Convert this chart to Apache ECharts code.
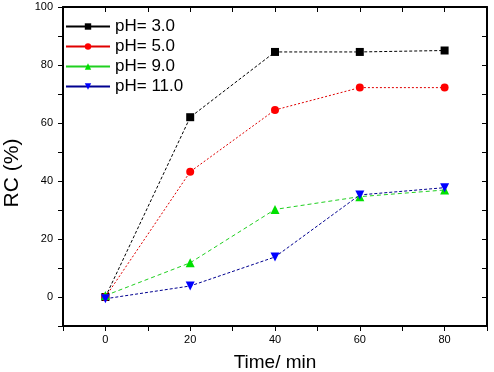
<!DOCTYPE html>
<html>
<head>
<meta charset="utf-8">
<script src="https://cdn.jsdelivr.net/npm/echarts@6/dist/echarts.min.js"></script>
<style>
  html, body { margin: 0; padding: 0; background: #fff; }
  #chart { width: 494px; height: 372px; }
</style>
</head>
<body>
<div id="chart"></div>
<script>
const times = [0, 20, 40, 60, 80];
const ph3 = [0, 62, 84.5, 84.5, 85];
const ph5 = [0, 43.2, 64.5, 72.2, 72.2];
const ph9 = [0.5, 11.8, 30.2, 34.6, 36.9];
const ph11 = [-0.6, 3.8, 13.8, 35.2, 37.7];
const names = ['pH= 3.0', 'pH= 5.0', 'pH= 9.0', 'pH= 11.0'];

const chart = echarts.init(document.getElementById('chart'));

const font = 'Liberation Sans, Arial, sans-serif';
const pair = ys => times.map((t, i) => [t, ys[i]]);
const labelFont = {fontFamily: font, fontSize: 11, color: '#000'};
const everyTwenty = v => (v % 20 === 0 ? String(v) : '');

function mkSeries(name, ys, color, lineColor, symbol, rotate, size, dash) {
  return {
    name: name,
    type: 'line',
    data: pair(ys),
    symbol: symbol,
    symbolSize: size,
    symbolRotate: rotate,
    itemStyle: {color: color},
    lineStyle: {color: lineColor, width: 1, type: dash},
    animation: false
  };
}

const axisBase = {
  type: 'value',
  interval: 10,
  axisLine: {show: true, onZero: false, lineStyle: {color: '#000', width: 2}},
  splitLine: {show: false}
};

chart.setOption({
  backgroundColor: '#fff',
  grid: {left: 63, right: 7, top: 7, bottom: 46, containLabel: false, outerBoundsMode: 'none'},
  legend: {
    orient: 'vertical',
    left: 65,
    top: 18,
    padding: 0,
    itemWidth: 44,
    itemHeight: 8,
    itemGap: 3,
    data: names,
    lineStyle: {type: 'solid'},
    textStyle: {fontFamily: font, fontSize: 17, color: '#000'}
  },
  xAxis: [
    Object.assign({}, axisBase, {
      position: 'bottom', min: -10, max: 90,
      name: 'Time/ min', nameLocation: 'middle', nameGap: 27,
      nameTextStyle: {fontFamily: font, fontSize: 19, color: '#000'},
      axisTick: {show: true, inside: false, length: 5, lineStyle: {color: '#000', width: 1}},
      axisLabel: Object.assign({formatter: everyTwenty, margin: 8, showMinLabel: true, showMaxLabel: true}, labelFont)
    }),
    Object.assign({}, axisBase, {
      position: 'top', min: -10, max: 90,
      axisTick: {show: true, inside: true, length: 5, lineStyle: {color: '#000', width: 1}},
      axisLabel: {show: false}
    })
  ],
  yAxis: [
    Object.assign({}, axisBase, {
      position: 'left', min: -10, max: 100,
      name: 'RC (%)', nameLocation: 'middle', nameGap: 40,
      nameTextStyle: {fontFamily: font, fontSize: 21, color: '#000', padding: [0, 13, 0, 0]},
      axisTick: {show: true, inside: false, length: 5, lineStyle: {color: '#000', width: 1}},
      axisLabel: Object.assign({formatter: everyTwenty, margin: 10}, labelFont)
    }),
    Object.assign({}, axisBase, {
      position: 'right', min: -10, max: 100,
      axisTick: {show: true, inside: true, length: 5, lineStyle: {color: '#000', width: 1}},
      axisLabel: {show: false}
    })
  ],
  series: [
    mkSeries(names[0], ph3, '#000000', '#000000', 'rect', 0, 8, [3, 2]),
    mkSeries(names[1], ph5, '#ff0000', '#e00000', 'circle', 0, 8, [2, 2]),
    mkSeries(names[2], ph9, '#00e000', '#20d020', 'triangle', 0, 9, [4, 3]),
    mkSeries(names[3], ph11, '#0000ff', '#000090', 'triangle', 180, 9, [3, 2])
  ]
});
</script>
</body>
</html>
